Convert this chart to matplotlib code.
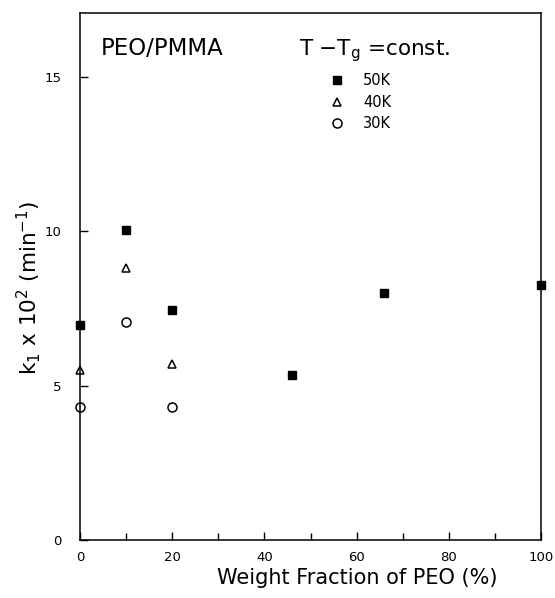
import matplotlib
matplotlib.use("Agg")
import matplotlib.pyplot as plt

# Data
x_50K = [0, 10, 20, 46, 66, 100]
y_50K = [6.95, 10.05, 7.45, 5.35, 8.0, 8.27]
x_40K = [0, 10, 20]
y_40K = [5.5, 8.8, 5.7]
x_30K = [0, 10, 20]
y_30K = [4.32, 7.07, 4.32]
series_labels = ["50K", "40K", "30K"]
x_ticks = [0, 20, 40, 60, 80, 100]
x_minor = [10, 30, 50, 70, 90]
y_ticks = [0, 5, 10, 15]

plt.rcParams['font.family'] = ['DejaVu Sans']
fig = plt.figure(figsize=(5.55, 5.98), dpi=100)
ax = fig.add_axes([0.144, 0.097, 0.831, 0.881])

ax.plot(x_50K, y_50K, linestyle='none', marker='s', ms=6, mfc='black', mec='black',
        label=series_labels[0], clip_on=False)
ax.plot(x_40K, y_40K, linestyle='none', marker='^', ms=6, mfc='white', mec='black', mew=1.1,
        label=series_labels[1], clip_on=False)
ax.plot(x_30K, y_30K, linestyle='none', marker='o', ms=6.5, mfc='white', mec='black', mew=1.1,
        label=series_labels[2], clip_on=False)

ax.set_xlim(0, 100)
ax.set_ylim(0, 17.06)
ax.set_xticks(x_ticks)
ax.set_xticks(x_minor, minor=True)
ax.set_yticks(y_ticks)
ax.tick_params(axis='both', which='both', direction='in', labelsize=9.5, width=1)
ax.tick_params(axis='both', which='major', length=6)
ax.tick_params(axis='x', which='major', pad=8)
ax.tick_params(axis='y', which='major', pad=13)
ax.tick_params(axis='x', which='minor', length=5)
for s in ax.spines.values():
    s.set_linewidth(1.1)

fig.text(0.643, 0.0334, "Weight Fraction of PEO (%)", fontsize=15, ha='center', va='center')
fig.text(0.052, 0.518, r"k$_1$ x 10$^2$ (min$^{-1}$)", fontsize=15.5, ha='center', va='center',
         rotation=90)

ax.text(0.045, 0.955, "PEO/PMMA", transform=ax.transAxes, fontsize=16.5, va='top', ha='left')
ax.text(0.475, 0.955, r"T $-$T$_\mathrm{g}$ =const.", transform=ax.transAxes, fontsize=15.5,
        va='top', ha='left')

leg = ax.legend(loc='upper left', bbox_to_anchor=(0.525, 0.90), frameon=False, fontsize=10.5,
                handlelength=1.0, handletextpad=1.3, labelspacing=0.45, borderpad=0, numpoints=1)

fig.savefig("out.png", dpi=100)
